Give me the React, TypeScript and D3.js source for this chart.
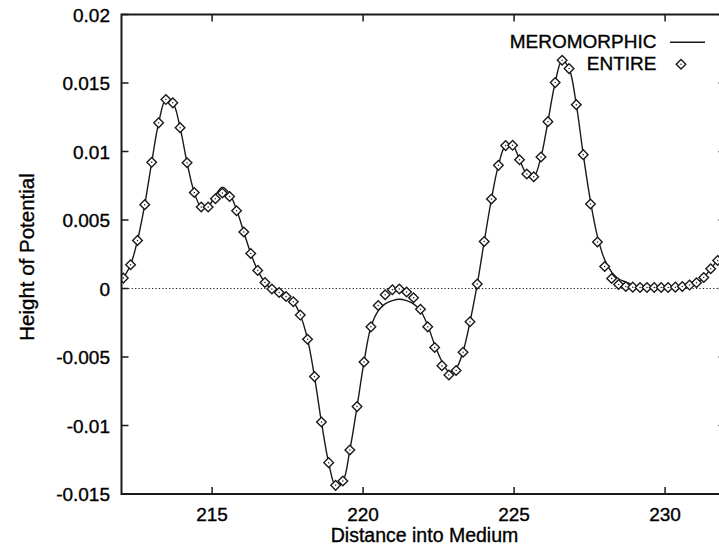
import React from "react";
import * as d3 from "d3";

// Sample positions along the medium
const distance: number[] = [
  212.06, 212.3, 212.53, 212.77, 213.0, 213.23, 213.47, 213.7, 213.94, 214.17,
  214.41, 214.64, 214.87, 215.11, 215.34, 215.58, 215.81, 216.05, 216.28, 216.51,
  216.75, 216.98, 217.22, 217.45, 217.69, 217.92, 218.16, 218.39, 218.62, 218.86,
  219.09, 219.33, 219.56, 219.8, 220.03, 220.26, 220.5, 220.73, 220.97, 221.2,
  221.44, 221.67, 221.9, 222.14, 222.37, 222.61, 222.84, 223.08, 223.31, 223.54,
  223.78, 224.01, 224.25, 224.48, 224.72, 224.95, 225.18, 225.42, 225.65, 225.89,
  226.12, 226.36, 226.59, 226.82, 227.06, 227.29, 227.53, 227.76, 228.0, 228.23,
  228.46, 228.7, 228.93, 229.17, 229.4, 229.64, 229.87, 230.1, 230.34, 230.57,
  230.81, 231.04, 231.28, 231.51, 231.74,
];

// Full potential (points)
const entire: number[] = [
  0.00076, 0.00173, 0.00351, 0.00612, 0.00921, 0.01209, 0.01379, 0.01355, 0.01174, 0.00918,
  0.00701, 0.00595, 0.00595, 0.00655, 0.00697, 0.00672, 0.00568, 0.00412, 0.00256, 0.00132,
  0.00044, -0.00004, -0.00029, -0.00058, -0.00097, -0.00194, -0.0037, -0.00643, -0.00974, -0.01271,
  -0.01437, -0.01405, -0.01179, -0.00862, -0.00536, -0.0028, -0.00124, -0.00046, -0.00009, -0.00004,
  -0.00026, -0.00068, -0.00151, -0.0028, -0.00431, -0.00563, -0.00631, -0.00599, -0.00465, -0.00243,
  0.00032, 0.00343, 0.00653, 0.00899, 0.01043, 0.01045, 0.0094, 0.00836, 0.00816, 0.0096,
  0.01218, 0.01503, 0.01666, 0.01605, 0.01342, 0.00977, 0.00617, 0.00339, 0.00161, 0.00073,
  0.00029, 0.00015, 0.0001, 0.00007, 0.00007, 0.00007, 0.00007, 0.00007, 0.0001, 0.00015,
  0.00025, 0.00042, 0.0008, 0.00144, 0.00205,
];

// Meromorphic approximation (line)
const meromorphic: number[] = [
  0.00076, 0.00173, 0.00351, 0.00612, 0.00921, 0.01209, 0.01379, 0.01355, 0.01174, 0.00918,
  0.00701, 0.00595, 0.006, 0.0068, 0.0074, 0.0069, 0.00575, 0.00412, 0.00256, 0.00132,
  0.00044, -0.00004, -0.00029, -0.00058, -0.00097, -0.00194, -0.0037, -0.00643, -0.00974, -0.01271,
  -0.01437, -0.01405, -0.01179, -0.00862, -0.00536, -0.0028, -0.00163, -0.00112, -0.00088, -0.00078,
  -0.00088, -0.00112, -0.00161, -0.0027, -0.00411, -0.00533, -0.00606, -0.00582, -0.0046, -0.00243,
  0.00032, 0.00343, 0.00653, 0.00899, 0.01043, 0.01045, 0.0094, 0.00836, 0.00816, 0.0096,
  0.01218, 0.01503, 0.01666, 0.01605, 0.01342, 0.00977, 0.00636, 0.0038, 0.0021, 0.0012,
  0.00071, 0.00047, 0.00027, 0.00017, 0.00012, 0.0001, 0.00009, 0.00009, 0.00011, 0.00015,
  0.00025, 0.00042, 0.0008, 0.00144, 0.00205,
];

const xTicks: number[] = [215, 220, 225, 230];
const yTicks: number[] = [-0.015, -0.01, -0.005, 0, 0.005, 0.01, 0.015, 0.02];
const yTickLabels: string[] = ["-0.015", "-0.01", "-0.005", "0", "0.005", "0.01", "0.015", "0.02"];
const seriesNames: string[] = ["MEROMORPHIC", "ENTIRE"];

const W = 719;
const H = 547;
const left = 121.5;
const right = 725.5;
const top = 14.5;
const bottom = 494;
const FONT = "'Liberation Sans', Arial, Helvetica, sans-serif";
const INK = "#1a1a1a";

// text gets a hairline outline so the glyphs read a little heavier
const textStyle = { fill: "#000", stroke: "#000", strokeWidth: 0.35 };

function Diamond({ cx, cy }: { cx: number; cy: number }) {
  const r = 4.8;
  return (
    <g>
      <path
        d={`M${cx},${cy - r}L${cx + r},${cy}L${cx},${cy + r}L${cx - r},${cy}Z`}
        fill="#fff"
        stroke={INK}
        strokeWidth={1.4}
      />
      <circle cx={cx} cy={cy} r={0.75} fill={INK} />
    </g>
  );
}

export default function App() {
  const x = d3.scaleLinear().domain([212, 232]).range([left, right]);
  const y = d3.scaleLinear().domain([-0.015, 0.02]).range([bottom, top]);

  const linePath =
    d3
      .line<number>()
      .x((_, i) => x(distance[i]))
      .y((d) => y(d))
      .curve(d3.curveCatmullRom.alpha(0.5))(meromorphic) || "";

  const tickLen = 7;

  return (
    <svg
      width={W}
      height={H}
      style={{ position: "absolute", left: 0, top: 0, background: "#fff" }}
      fontFamily={FONT}
    >
      <defs>
        <clipPath id="plot">
          <rect x={left} y={top} width={right - left} height={bottom - top} />
        </clipPath>
      </defs>
      <rect x={0} y={0} width={W} height={H} fill="#fff" />

      {/* zero reference */}
      <line
        x1={left}
        x2={right}
        y1={y(0)}
        y2={y(0)}
        stroke={INK}
        strokeWidth={1.1}
        strokeDasharray="1.2,2.2"
      />

      <g clipPath="url(#plot)">
        <path d={linePath} fill="none" stroke={INK} strokeWidth={1.4} />
        {entire.map((v, i) => (
          <Diamond key={i} cx={x(distance[i])} cy={y(v)} />
        ))}
      </g>

      {/* frame */}
      <rect
        x={left}
        y={top}
        width={right - left}
        height={bottom - top}
        fill="none"
        stroke={INK}
        strokeWidth={2}
      />

      {/* x ticks */}
      {xTicks.map((t) => (
        <g key={"x" + t}>
          <line x1={x(t)} x2={x(t)} y1={bottom} y2={bottom - tickLen} stroke={INK} strokeWidth={1.5} />
          <line x1={x(t)} x2={x(t)} y1={top} y2={top + tickLen} stroke={INK} strokeWidth={1.5} />
          <text x={x(t)} y={520.7} textAnchor="middle" fontSize={19} style={textStyle}>
            {t}
          </text>
        </g>
      ))}

      {/* y ticks */}
      {yTicks.map((t, i) => (
        <g key={"y" + i}>
          <line x1={left} x2={left + tickLen} y1={y(t)} y2={y(t)} stroke={INK} strokeWidth={1.5} />
          <line x1={right} x2={right - tickLen} y1={y(t)} y2={y(t)} stroke={INK} strokeWidth={1.5} />
          <text x={110} y={y(t) + 7.3} textAnchor="end" fontSize={19} style={textStyle}>
            {yTickLabels[i]}
          </text>
        </g>
      ))}

      {/* axis titles */}
      <text x={424.5} y={542} textAnchor="middle" fontSize={19.5} style={textStyle}>
        Distance into Medium
      </text>
      <text
        transform={`translate(33.5, 257) rotate(-90)`}
        textAnchor="middle"
        fontSize={20.5}
        style={textStyle}
      >
        Height of Potential
      </text>

      {/* legend */}
      <text x={656.5} y={48.3} textAnchor="end" fontSize={19} style={textStyle}>
        {seriesNames[0]}
      </text>
      <line x1={670} x2={705} y1={42.3} y2={42.3} stroke={INK} strokeWidth={1.4} />
      <text x={656.5} y={70} textAnchor="end" fontSize={19} style={textStyle}>
        {seriesNames[1]}
      </text>
      <Diamond cx={681} cy={64.3} />
    </svg>
  );
}
